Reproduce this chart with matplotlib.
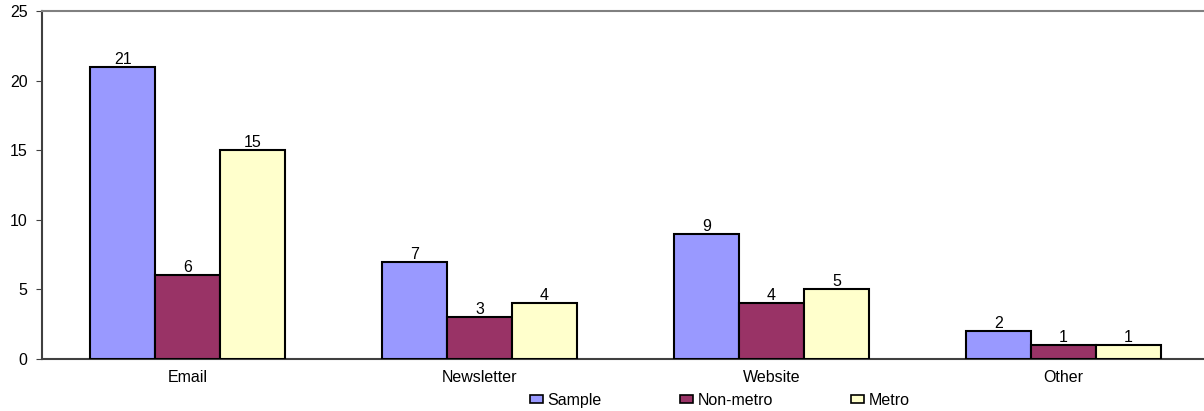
import numpy as np
import matplotlib.pyplot as plt
from matplotlib.patches import Patch

plt.rcParams['font.family'] = ['Liberation Sans', 'DejaVu Sans']

categories = ['Email', 'Newsletter', 'Website', 'Other']
sample = [21, 7, 9, 2]
non_metro = [6, 3, 4, 1]
metro = [15, 4, 5, 1]

series = [('Sample', sample, '#9999FF'),
          ('Non-metro', non_metro, '#993366'),
          ('Metro', metro, '#FFFFCC')]

fs = 11.5

fig = plt.figure(figsize=(12.04, 4.11), dpi=100)
ax = fig.add_axes([0.0345, 0.1265, 0.970, 0.8467])

x = np.arange(len(categories))
w = 1 / 4.5
for i, (name, vals, col) in enumerate(series):
    bars = ax.bar(x + (i - 1) * w, vals, w, color=col, edgecolor='black',
                  linewidth=1.5, label=name, zorder=3)
    ax.bar_label(bars, padding=0, fontsize=fs)

ax.set_xlim(-0.5, 3.5)
ax.set_ylim(0, 25)
ax.set_yticks(range(0, 26, 5))
ax.set_xticks(x)
ax.set_xticklabels(categories, fontsize=fs)
ax.tick_params(axis='x', length=0, pad=8)
ax.tick_params(axis='y', length=4, color='#404040', labelsize=fs, pad=6)

ax.spines['right'].set_visible(False)
ax.spines['top'].set_color('#808080')
ax.spines['top'].set_linewidth(1.5)
ax.spines['left'].set_color('#404040')
ax.spines['left'].set_linewidth(1.5)
ax.spines['bottom'].set_color('#404040')
ax.spines['bottom'].set_linewidth(1.5)

handles = [Patch(facecolor=c, edgecolor='black', linewidth=1.2) for _, _, c in series]
fig.legend(handles, [s[0] for s in series], loc='center', bbox_to_anchor=(0.598, 0.026),
           ncol=3, frameon=False, fontsize=fs, handlelength=0.8, handleheight=0.4,
           handletextpad=0.3, columnspacing=4.9, borderpad=0)

fig.savefig('out.png', dpi=100)
